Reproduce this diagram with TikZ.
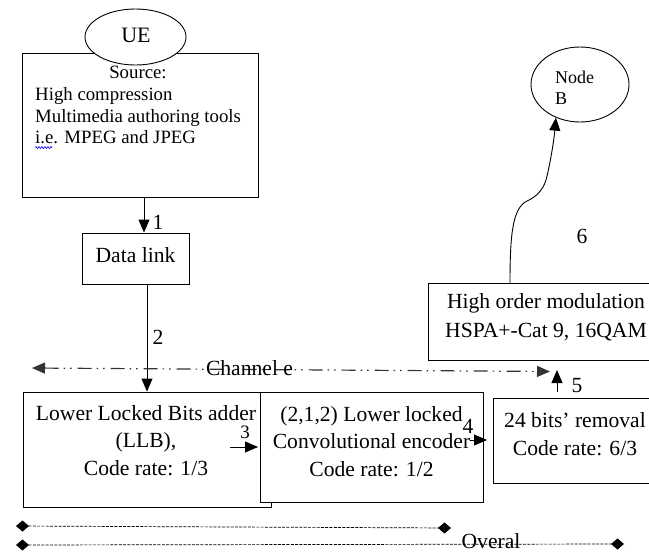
\documentclass[tikz,border=0pt]{standalone}
\usepackage{fontspec}
\setmainfont{Liberation Serif}
\usetikzlibrary{arrows.meta,shapes.geometric,decorations.pathmorphing}
\newcommand\myfs[2]{\fontsize{#1}{#2}\selectfont}
\begin{document}
\begin{tikzpicture}[x=1pt,y=-1pt,
  box/.style={draw, line width=0.9pt, fill=white, inner sep=0pt},
  txt/.style={font=\myfs{21.6}{27.5}, align=center, inner sep=0pt, anchor=base},
  srcf/.style={font=\myfs{18.8}{21.5}, inner sep=0pt, anchor=base west, align=left},
  num/.style={font=\myfs{21.6}{26}, inner sep=0pt, anchor=base},
  arr/.style={line width=0.9pt, -{Triangle[length=13pt,width=11pt]}},
  chan/.style={line width=1.2pt, black!80, dash pattern=on 14pt off 5pt on 1.5pt off 5pt on 1.5pt off 6pt},
  dline/.style={line width=0.7pt, dash pattern=on 3pt off 1.3pt},
]
\clip (0,0) rectangle (649,555);

% Source box and UE
\node[box, minimum width=236pt, minimum height=144pt] (src) at (140,125) {};
\node[box, ellipse, minimum width=101pt, minimum height=56pt] (ue) at (135.5,37) {};
\node[txt, font=\myfs{22}{26}] (uet) at (136,42) {UE};
\node[txt, font=\myfs{18.8}{21.5}] (srct) at (138,78) {Source:};
% base anchor of a multi-line node = baseline of its last line
\node[srcf] (srcb) at (35,143.5) {High compression\\Multimedia authoring tools\\i.e. MPEG and JPEG};
\coordinate (sq1) at (35,147.5);
\coordinate (sq2) at (52,147.5);
\draw[blue, line width=0.6pt, decorate, decoration={snake, amplitude=1pt, segment length=3pt}] (sq1) -- (sq2);

% Data link
\node[box, minimum width=107pt, minimum height=51pt] (dl) at (135.5,258.5) {};
\node[txt] (dlt) at (135.5,262) {Data link};

% LLB and convolutional encoder
\node[box, minimum width=248pt, minimum height=115pt] (llb) at (147,449.5) {};
\node[txt] (llbt) at (146,475) {Lower Locked Bits adder\\(LLB),\\Code rate: 1/3};
\node[box, minimum width=223pt, minimum height=110pt] (conv) at (371.5,447) {};
\node[txt] (convt) at (371.5,476) {(2,1,2) Lower locked\\Convolutional encoder\\Code rate: 1/2};

% 24 bits removal
\node[box, minimum width=164pt, minimum height=85pt] (bits) at (575,440.5) {};
\node[txt, font=\myfs{21.6}{28}] (bitst) at (575,455) {24 bits' removal\\Code rate: 6/3};

% High order modulation
\node[box, minimum width=236pt, minimum height=77pt] (hspa) at (546,321.5) {};
\node[txt, font=\myfs{21.6}{29}] (hspat) at (546,337) {High order modulation\\HSPA+-Cat 9, 16QAM};

% Node B
\node[box, ellipse, minimum width=98pt, minimum height=75pt] (nb) at (580,84.5) {};
\node[srcf, font=\myfs{18}{21}] (nbt) at (555,104) {Node\\B};

% connectors
\coordinate (a1s) at (144,197);
\draw[arr] (a1s) -- (a1s |- dl.north);
\node[num] (n1) at (158,229) {1};

\coordinate (a2s) at (147,284);
\draw[arr] (a2s) -- (a2s |- llb.north);
\node[num] (n2) at (158,344) {2};

\coordinate (a3s) at (230,447);
\draw[arr] (a3s) -- (258,447);
\node[num, font=\myfs{19}{22}] (n3) at (245,438) {3};

\coordinate (a4s) at (470,440);
\draw[arr] (a4s) -- (487,440);
\node[num] (n4) at (468,433) {4};

\coordinate (a5s) at (557,392);
\draw[arr] (a5s) -- (557,370);
\node[num] (n5) at (577,392) {5};

\coordinate (a6s) at (510,283);
\draw[arr]
  (a6s) .. controls (510,232) and (513,208) .. (527,201)
        .. controls (536,197) and (543,190) .. (546,180)
        .. controls (550,165) and (554,140) .. (nb.234);
\node[num] (n6) at (582,243) {6};

% Channel e
\coordinate (chl) at (32,368);
\coordinate (chr) at (550,371.5);
\draw[chan, {Triangle[length=13pt,width=11pt]}-{Triangle[length=13pt,width=11pt]}] (chl) -- (chr);
\node[txt] (cht) at (249.5,375) {Channel e};

% Bottom dashed lines
\coordinate (d1l) at (16,526);
\coordinate (d1r) at (451,528);
\coordinate (d2l) at (16,545);
\coordinate (d2r) at (624,544);
\draw[dline, {Diamond[length=13pt,width=11pt]}-{Diamond[length=13pt,width=11pt]}] (d1l) -- (d1r);
\draw[dline, {Diamond[length=13pt,width=11pt]}-{Diamond[length=13pt,width=11pt]}] (d2l) -- (d2r);
\node[txt] (ovt) at (491,548) {Overal};
\end{tikzpicture}
\end{document}
